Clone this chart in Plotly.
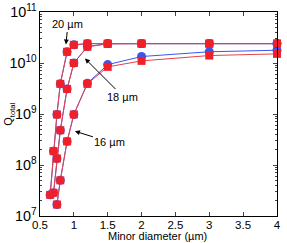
import plotly.graph_objects as go

# Minor diameter (µm)
x20 = [0.65, 0.7, 0.75, 0.8, 0.9, 1.0, 1.2, 1.5, 2, 3, 4]
x18 = [0.7, 0.75, 0.8, 0.9, 1.0, 1.2, 1.5, 2, 3, 4]
x16 = [0.75, 0.8, 0.9, 1.0, 1.2, 1.5, 2, 3, 4]

# Q_total, blue (circles) series
q20_blue = [2.6e7, 1.87e8, 9.8e8, 3.9e9, 1.66e10, 2.27e10, 2.4e10, 2.4e10, 2.4e10, 2.4e10, 2.4e10]
q18_blue = [2.85e7, 1.34e8, 4.8e8, 3.1e9, 1.0e10, 2.1e10, 2.4e10, 2.4e10, 2.4e10, 2.4e10]
q16_blue = [1.68e7, 5.0e7, 2.9e8, 9.8e8, 4.0e9, 9.3e9, 1.34e10, 1.66e10, 1.78e10]

# Q_total, red (squares) series
q20_red = [2.6e7, 1.87e8, 9.8e8, 3.9e9, 1.66e10, 2.27e10, 2.4e10, 2.4e10, 2.4e10, 2.4e10, 2.4e10]
q18_red = [2.85e7, 1.34e8, 4.8e8, 3.1e9, 1.0e10, 2.08e10, 2.37e10, 2.4e10, 2.4e10, 2.4e10]
q16_red = [1.68e7, 5.0e7, 2.9e8, 9.8e8, 3.9e9, 8.4e9, 1.1e10, 1.4e10, 1.51e10]

BLUE = "#3a55f0"
RED = "#f0202a"
REDLINE = "#e8404c"

fig = go.Figure()
for xs, ys in [(x20, q20_blue), (x18, q18_blue), (x16, q16_blue)]:
    fig.add_trace(go.Scatter(x=xs, y=ys, mode="lines+markers",
                             line=dict(color=BLUE, width=1),
                             marker=dict(symbol="circle", size=9, color=BLUE),
                             showlegend=False, cliponaxis=False))
for xs, ys in [(x20, q20_red), (x18, q18_red), (x16, q16_red)]:
    fig.add_trace(go.Scatter(x=xs, y=ys, mode="lines+markers",
                             line=dict(color=REDLINE, width=1),
                             marker=dict(symbol="square", size=8, color=RED),
                             showlegend=False, cliponaxis=False))

font = dict(family="Liberation Sans, Arial, sans-serif", size=11, color="black")
tfont = dict(family="Liberation Sans, Arial, sans-serif", size=11.5, color="black")

ann = [
    dict(x=0.883, y=10.363, ax=2, ay=-20, text="20 µm"),
    dict(x=1.164, y=10.088, ax=38, ay=38, text="18 µm"),
    dict(x=1.016, y=8.663, ax=35, ay=11, text="16 µm"),
]
for a in ann:
    fig.add_annotation(x=a["x"], y=a["y"], ax=a["ax"], ay=a["ay"], text=a["text"],
                       xref="x", yref="y", showarrow=True, arrowhead=2,
                       arrowsize=1, arrowwidth=1, arrowcolor="black",
                       font=font)

# axis titles
fig.add_annotation(text="Minor diameter (µm)", xref="paper", yref="paper",
                   x=(157 - 40) / 237, y=-(236.5 - 216.5) / 204.5,
                   xanchor="center", yanchor="middle", showarrow=False, font=font)
fig.add_annotation(text="Q<sub>total</sub>", xref="paper", yref="paper",
                   x=-(40 - 9) / 237, y=(216.5 - 114) / 204.5, textangle=-90,
                   xanchor="center", yanchor="middle", showarrow=False, font=font)

fig.update_layout(
    width=287, height=243,
    margin=dict(l=40, r=10, t=12, b=27, autoexpand=False),
    paper_bgcolor="white", plot_bgcolor="white",
    font=font,
    xaxis=dict(range=[0.5, 4.0005], tick0=0.5, dtick=0.5, ticks="inside", ticklen=4,
               showline=True, linecolor="black", linewidth=1, mirror="ticks",
               showgrid=False, zeroline=False, automargin=False,
               tickfont=tfont, ticklabelstandoff=-2),
    yaxis=dict(type="log", range=[7, 11], dtick=1, exponentformat="power",
               ticks="inside", ticklen=4,
               showline=True, linecolor="black", linewidth=1, mirror="ticks",
               showgrid=False, zeroline=False, automargin=False,
               tickfont=tfont,
               minor=dict(ticks="inside", ticklen=2, showgrid=False)),
)

fig.write_html("out.html", config={"displayModeBar": False},
               post_script="document.body.style.margin='0';document.body.style.overflow='hidden';")
